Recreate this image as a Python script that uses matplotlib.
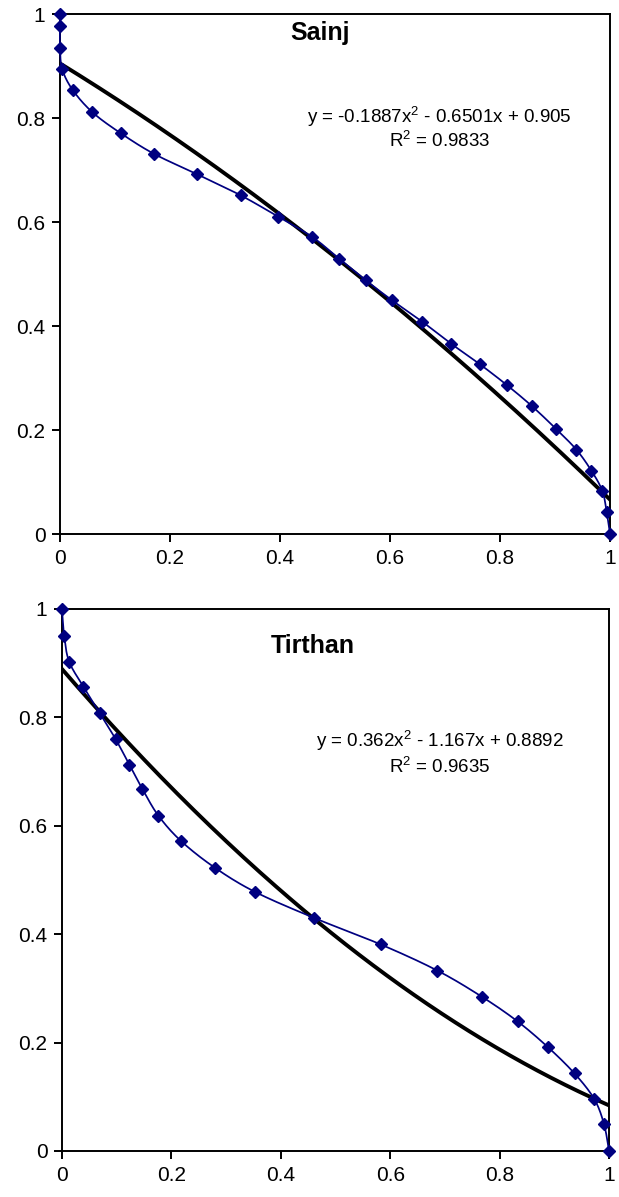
import numpy as np
import matplotlib
matplotlib.use('Agg')
import matplotlib.pyplot as plt

plt.rcParams['font.family'] = ['Liberation Sans', 'DejaVu Sans']
plt.rcParams['mathtext.fontset'] = 'custom'
plt.rcParams['mathtext.rm'] = 'Liberation Sans'

# Sainj: observed points
sainj_x = [0.0, 0.0, 0.0, 0.004, 0.023, 0.059, 0.110, 0.171, 0.249, 0.329, 0.397,
           0.459, 0.508, 0.556, 0.603, 0.659, 0.711, 0.764, 0.813, 0.858, 0.902,
           0.939, 0.966, 0.986, 0.994, 1.0]
sainj_y = [1.0, 0.976, 0.935, 0.894, 0.854, 0.811, 0.771, 0.731, 0.692, 0.651, 0.610,
           0.571, 0.529, 0.488, 0.450, 0.408, 0.366, 0.326, 0.286, 0.246, 0.202,
           0.162, 0.122, 0.083, 0.042, 0.0]
sainj_coef = [-0.1887, -0.6501, 0.905]
sainj_r2 = 0.9833

# Tirthan: observed points
tirthan_x = [0.0, 0.004, 0.013, 0.039, 0.069, 0.098, 0.123, 0.147, 0.176, 0.2175,
             0.279, 0.353, 0.461, 0.583, 0.686, 0.767, 0.833, 0.889, 0.937, 0.973,
             0.991, 1.0]
tirthan_y = [1.0, 0.951, 0.903, 0.857, 0.808, 0.760, 0.713, 0.668, 0.619, 0.572,
             0.523, 0.478, 0.430, 0.381, 0.333, 0.285, 0.239, 0.191, 0.143, 0.096,
             0.049, 0.0]
tirthan_coef = [0.362, -1.167, 0.8892]
tirthan_r2 = 0.9635

ticks = [0, 0.2, 0.4, 0.6, 0.8, 1.0]
tick_labels = ['0', '0.2', '0.4', '0.6', '0.8', '1']

NAVY = '#000080'


def smooth(x, y, n=16):
    # Excel-style smoothed line (Catmull-Rom bezier through the points)
    p = np.column_stack([x, y]).astype(float)
    out = [p[0]]
    t = np.linspace(0, 1, n)[1:, None]
    for i in range(len(p) - 1):
        p0 = p[i - 1] if i > 0 else p[i]
        p1, p2 = p[i], p[i + 1]
        p3 = p[i + 2] if i + 2 < len(p) else p[i + 1]
        c1 = p1 + (p2 - p0) / 6
        c2 = p2 - (p3 - p1) / 6
        seg = ((1 - t) ** 3) * p1 + 3 * ((1 - t) ** 2) * t * c1 + 3 * (1 - t) * t ** 2 * c2 + t ** 3 * p2
        out.extend(seg)
    out = np.array(out)
    return out[:, 0], out[:, 1]


def panel(ax, x, y, coef, r2, name, name_xy, eq_xy, r2_xy, eq_text):
    sx, sy = smooth(x, y)
    ax.plot(sx, sy, color=NAVY, lw=1.25, clip_on=False, zorder=3)
    ax.plot(x, y, ls='none', marker='D', ms=6.5, color=NAVY, clip_on=False, zorder=4)
    xf = np.linspace(0, 1, 200)
    ax.plot(xf, np.polyval(coef, xf), color='black', lw=2.8, zorder=2)
    ax.set_xlim(0, 1)
    ax.set_ylim(0, 1)
    ax.set_xticks(ticks)
    ax.set_xticklabels(tick_labels)
    ax.set_yticks(ticks)
    ax.set_yticklabels(tick_labels)
    ax.tick_params(direction='out', length=5.5, width=1.4, labelsize=15, pad=5)
    for s in ax.spines.values():
        s.set_linewidth(1.4)
    ax.text(name_xy[0], name_xy[1], name, fontsize=18, fontweight='bold',
            ha='center', va='baseline')
    ax.text(eq_xy[0], eq_xy[1], eq_text, fontsize=13.5, ha='center', va='center')
    ax.text(r2_xy[0], r2_xy[1], r'R$\mathregular{^2}$ = %.4f' % r2, fontsize=13.5,
            ha='center', va='center')


fig = plt.figure(figsize=(6.19, 11.97), dpi=100)
ax1 = fig.add_axes([60 / 619, 1 - 534 / 1197, 550 / 619, 520 / 1197])
ax2 = fig.add_axes([62 / 619, 1 - 1151 / 1197, 547 / 619, 542 / 1197])

panel(ax1, sainj_x, sainj_y, sainj_coef, sainj_r2, 'Sainj',
      (0.473, 0.95), (0.69, 0.802), (0.69, 0.756),
      r'y = -0.1887x$\mathregular{^2}$ - 0.6501x + 0.905')
panel(ax2, tirthan_x, tirthan_y, tirthan_coef, tirthan_r2, 'Tirthan',
      (0.459, 0.919), (0.69, 0.756), (0.69, 0.708),
      r'y = 0.362x$\mathregular{^2}$ - 1.167x + 0.8892')

fig.savefig('out.png', dpi=100)
